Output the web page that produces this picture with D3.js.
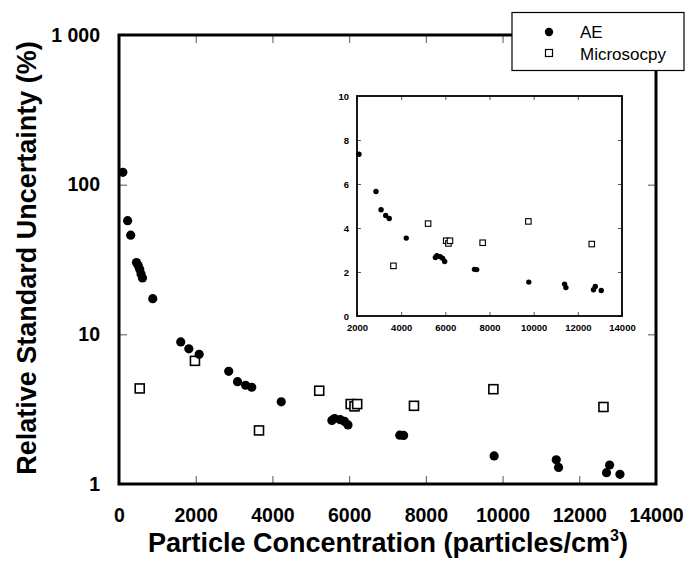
<!DOCTYPE html>
<html>
<head>
<meta charset="utf-8">
<script src="https://cdn.jsdelivr.net/npm/d3@7"></script>
<style>
  html, body { margin: 0; padding: 0; background: #fff; }
  svg { display: block; font-family: "Liberation Sans", Arial, sans-serif; }
</style>
</head>
<body>
<svg id="chart" width="687" height="563"></svg>
<script>
// Particle concentration (particles/cm^3) and relative standard uncertainty (%)
const aeConc = [100, 225, 305, 455, 500, 540, 575, 612, 880, 1610, 1820, 2090,
  2860, 3090, 3300, 3460, 4230, 5550, 5620, 5770, 5880, 5970, 7320, 7420,
  9780, 11400, 11460, 12710, 12790, 13060];
const aeUnc = [121, 57.5, 46, 30.2, 28.8, 27.2, 25.3, 23.8, 17.3, 8.9, 8.0, 7.35,
  5.66, 4.83, 4.57, 4.43, 3.54, 2.66, 2.74, 2.69, 2.62, 2.48, 2.12, 2.11,
  1.54, 1.45, 1.29, 1.19, 1.34, 1.16];

const micConc = [540, 1980, 3650, 5220, 6040, 6140, 6210, 7690, 9760, 12630];
const micUnc = [4.35, 6.65, 2.28, 4.2, 3.42, 3.3, 3.42, 3.33, 4.3, 3.27];

const seriesNames = ["AE", "Microsocpy"];

const xTicks = [0, 2000, 4000, 6000, 8000, 10000, 12000, 14000];
const yTicks = [1, 10, 100, 1000];
const yTickLabels = ["1", "10", "100", "1 000"];

const insetXTicks = [2000, 4000, 6000, 8000, 10000, 12000, 14000];
const insetYTicks = [0, 2, 4, 6, 8, 10];

const xTitle = "Particle Concentration (particles/cm";
const yTitle = "Relative Standard Uncertainty (%)";

const ae = aeConc.map((c, i) => ({ c, u: aeUnc[i] }));
const mic = micConc.map((c, i) => ({ c, u: micUnc[i] }));

const svg = d3.select("#chart");

// ---- main panel ----
const M = { left: 119, right: 656, top: 35, bottom: 484 };
const x = d3.scaleLinear().domain([0, 14000]).range([M.left, M.right]);
const y = d3.scaleLog().domain([1, 1000]).range([M.bottom, M.top]);

function styleAxis(g, fontSize) {
  g.select(".domain").remove();
  g.selectAll(".tick line").attr("stroke", "#555").attr("stroke-width", 1);
  g.selectAll(".tick text")
    .attr("fill", "#000")
    .style("font-size", fontSize + "px")
    .style("font-weight", "bold")
    .style("font-family", "'Liberation Sans', Arial, sans-serif");
}

svg.append("g").attr("transform", `translate(0,${M.bottom})`)
  .call(d3.axisBottom(x).tickValues(xTicks).tickSize(-8).tickPadding(24).tickFormat(d3.format("d")))
  .call(g => styleAxis(g, 19.5));
svg.append("g").attr("transform", `translate(0,${M.top})`)
  .call(d3.axisTop(x).tickValues(xTicks).tickSize(-8).tickFormat(""))
  .call(g => styleAxis(g, 19.5));
svg.append("g").attr("transform", `translate(${M.left},0)`)
  .call(d3.axisLeft(y).tickValues(yTicks).tickSize(-8).tickPadding(19)
    .tickFormat((d, i) => yTickLabels[i]))
  .call(g => styleAxis(g, 19.5));
svg.append("g").attr("transform", `translate(${M.right},0)`)
  .call(d3.axisRight(y).tickValues(yTicks).tickSize(-8).tickFormat(""))
  .call(g => styleAxis(g, 19.5));

svg.append("rect")
  .attr("x", M.left).attr("y", M.top)
  .attr("width", M.right - M.left).attr("height", M.bottom - M.top)
  .attr("fill", "none").attr("stroke", "#000").attr("stroke-width", 3);

// ---- inset panel (linear scale, 2000-14000) ----
const I = { left: 357, right: 622, top: 96, bottom: 316 };
const xi = d3.scaleLinear().domain([2000, 14000]).range([I.left, I.right]);
const yi = d3.scaleLinear().domain([0, 10]).range([I.bottom, I.top]);

svg.append("g").attr("transform", `translate(0,${I.bottom})`)
  .call(d3.axisBottom(xi).tickValues(insetXTicks).tickSize(-4).tickPadding(8).tickFormat(d3.format("d")))
  .call(g => styleAxis(g, 9.5));
svg.append("g").attr("transform", `translate(0,${I.top})`)
  .call(d3.axisTop(xi).tickValues(insetXTicks).tickSize(-4).tickFormat(""))
  .call(g => styleAxis(g, 9.5));
svg.append("g").attr("transform", `translate(${I.left},0)`)
  .call(d3.axisLeft(yi).tickValues(insetYTicks).tickSize(-4).tickPadding(8).tickFormat(d3.format("d")))
  .call(g => styleAxis(g, 9.5));
svg.append("g").attr("transform", `translate(${I.right},0)`)
  .call(d3.axisRight(yi).tickValues(insetYTicks).tickSize(-4).tickFormat(""))
  .call(g => styleAxis(g, 9.5));

svg.append("rect")
  .attr("x", I.left).attr("y", I.top)
  .attr("width", I.right - I.left).attr("height", I.bottom - I.top)
  .attr("fill", "none").attr("stroke", "#000").attr("stroke-width", 1.8);

// ---- markers ----
function drawPoints(parent, data, sx, sy, r, sq, domainX) {
  const inX = d => d.c >= domainX[0] && d.c <= domainX[1];
  parent.append("g").selectAll("rect")
    .data(data.mic.filter(inX)).join("rect")
    .attr("x", d => sx(d.c) - sq / 2).attr("y", d => sy(d.u) - sq / 2)
    .attr("width", sq).attr("height", sq)
    .attr("fill", "#fff").attr("stroke", "#000").attr("stroke-width", sq > 6 ? 1.6 : 1.1);
  parent.append("g").selectAll("circle")
    .data(data.ae.filter(inX)).join("circle")
    .attr("cx", d => sx(d.c)).attr("cy", d => sy(d.u)).attr("r", r)
    .attr("fill", "#000");
}

drawPoints(svg, { ae, mic }, x, y, 4.6, 9, [0, 14000]);
drawPoints(svg, { ae, mic }, xi, yi, 2.7, 5.5, [2000, 14000]);

// ---- axis titles ----
const xt = svg.append("text")
  .attr("x", 388).attr("y", 552)
  .attr("text-anchor", "middle")
  .style("font-size", "27px").style("font-weight", "bold")
  .attr("fill", "#000");
xt.append("tspan").text(xTitle);
xt.append("tspan").attr("dy", -11).style("font-size", "16px").text("3");
xt.append("tspan").attr("dy", 11).text(")");

svg.append("text")
  .attr("transform", "translate(36,258) rotate(-90)")
  .attr("text-anchor", "middle")
  .style("font-size", "27px").style("font-weight", "bold")
  .attr("fill", "#000")
  .text(yTitle);

// ---- legend ----
const lg = svg.append("g");
lg.append("rect")
  .attr("x", 512).attr("y", 12.5).attr("width", 172).attr("height", 58)
  .attr("fill", "#fff").attr("stroke", "#000").attr("stroke-width", 1.2);
lg.append("circle").attr("cx", 549).attr("cy", 32).attr("r", 4.2).attr("fill", "#000");
lg.append("rect").attr("x", 545.5).attr("y", 49.5).attr("width", 7).attr("height", 7)
  .attr("fill", "#fff").attr("stroke", "#000").attr("stroke-width", 1.2);
lg.selectAll("text.lbl").data(seriesNames).join("text")
  .attr("class", "lbl")
  .attr("x", 580).attr("y", (d, i) => 38 + i * 21.5)
  .style("font-size", "17px")
  .attr("fill", "#000")
  .text(d => d);
</script>
</body>
</html>
